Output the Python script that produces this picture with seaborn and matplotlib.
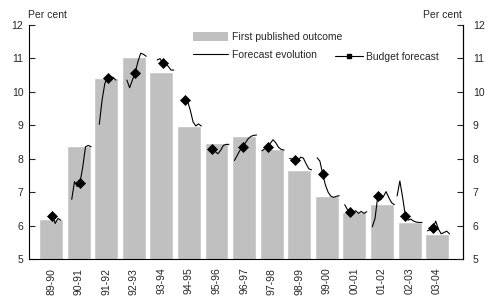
import numpy as np
import pandas as pd
import matplotlib
matplotlib.use("Agg")
import matplotlib.pyplot as plt
import seaborn as sns
from matplotlib.lines import Line2D
from matplotlib.patches import Patch

# ---------------- data ----------------
years = ["89-90", "90-91", "91-92", "92-93", "93-94", "94-95", "95-96", "96-97",
         "97-98", "98-99", "99-00", "00-01", "01-02", "02-03", "03-04"]
first_outcome = [6.20, 8.38, 10.42, 11.04, 10.59, 8.98, 8.48, 8.68,
                 8.29, 7.67, 6.89, 6.42, 6.66, 6.12, 5.76]
budget_forecast = [6.29, 7.29, 10.42, 10.56, 10.87, 9.77, 8.29, 8.36,
                   8.36, 7.96, 7.55, 6.40, 6.89, 6.30, 5.93]
# which forecast round (0..9) the budget forecast corresponds to
budget_round = [5, 5, 5, 5, 5, 3, 3, 4, 3, 3, 3, 3, 3, 3, 3]
N = None
evo_8990 = [N, N, N, N, N, 6.29, 6.07, 6.22, 6.17, N]
evo_9091 = [N, N, 6.79, 7.32, 7.17, 7.29, 7.76, 8.36, 8.40, 8.36]
evo_9192 = [N, N, 9.03, 9.75, 10.25, 10.42, 10.44, 10.43, 10.35, N]
evo_9293 = [N, N, 10.35, 10.12, 10.35, 10.56, 10.90, 11.15, 11.12, 11.06]
evo_9394 = [N, N, N, 10.95, 10.99, 10.87, 10.84, 10.76, 10.65, 10.65]
evo_9495 = [N, N, N, 9.77, 9.72, 9.45, 9.10, 8.98, 9.04, 8.98]
evo_9596 = [N, N, N, 8.29, 8.22, 8.15, 8.25, 8.40, 8.43, 8.43]
evo_9697 = [N, 7.95, 8.10, 8.25, 8.36, 8.48, 8.60, 8.67, 8.70, 8.71]
evo_9798 = [N, 8.24, 8.30, 8.36, 8.46, 8.57, 8.48, 8.34, 8.28, 8.26]
evo_9899 = [N, 8.01, 7.99, 7.96, 7.93, 8.05, 8.02, 7.85, 7.70, 7.67]
evo_9900 = [N, 8.03, 7.93, 7.55, 7.22, 7.00, 6.88, 6.85, 6.88, 6.90]
evo_0001 = [N, 6.63, 6.48, 6.40, 6.40, 6.45, 6.37, 6.43, 6.37, 6.42]
evo_0102 = [N, 5.97, 6.22, 6.89, 6.77, 6.87, 7.02, 6.84, 6.69, 6.63]
evo_0203 = [6.89, 7.34, 6.85, 6.30, 6.17, 6.20, 6.14, 6.11, 6.10, 6.10]
evo_0304 = [N, 5.85, 5.88, 5.93, 6.14, 5.90, 5.76, 5.80, 5.84, 5.76]
evolution = [evo_8990, evo_9091, evo_9192, evo_9293, evo_9394, evo_9495, evo_9596,
             evo_9697, evo_9798, evo_9899, evo_9900, evo_0001, evo_0102, evo_0203,
             evo_0304]

# ---------------- style ----------------
sns.set_style("ticks")
plt.rcParams["font.family"] = ["Liberation Sans", "DejaVu Sans"]
FS = 7.5

fig = plt.figure(figsize=(4.92, 3.03), dpi=100)
W, H = 492, 303
x0, x1, ytop, ybot = 29, 463, 24.8, 259.3
ax = fig.add_axes([x0 / W, 1 - ybot / H, (x1 - x0) / W, (ybot - ytop) / H])

sns.barplot(x=years, y=first_outcome, color="#C0C0C0", saturation=1,
            width=0.87, ax=ax, zorder=1)

n_rounds = 10
round_pos = [-0.45 + 0.1 * j for j in range(n_rounds)]
rows = []
for i, (yr, ev) in enumerate(zip(years, evolution)):
    for j, v in enumerate(ev):
        if v is not None:
            rows.append({"x": i + round_pos[j], "value": v, "year": yr})
df = pd.DataFrame(rows)
sns.lineplot(data=df, x="x", y="value", units="year", estimator=None,
             color="black", lw=0.8, ax=ax, legend=False, sort=False, zorder=3)

bx = [i + round_pos[r] for i, r in enumerate(budget_round)]
sns.scatterplot(x=bx, y=budget_forecast, marker="D", s=26, color="black",
                edgecolor="black", linewidth=0.5, ax=ax, zorder=4, legend=False)

ax.set_xlim(-0.8, 14.94)
ax.set_ylim(5, 12)
ax.set_yticks(range(5, 13))
ax.set_xlabel("")
ax.set_ylabel("")
ax.set_xticks(range(len(years)))
ax.set_xticklabels(years, rotation=90, fontsize=FS)
ax.tick_params(axis="x", length=0, pad=6)
ax.tick_params(axis="y", direction="in", length=4, width=0.8, labelsize=FS,
               left=True, right=False, labelleft=True, labelright=False, pad=4)
for s in ["left", "right", "bottom"]:
    ax.spines[s].set_visible(True)
    ax.spines[s].set_color("black")
    ax.spines[s].set_linewidth(0.8)
ax.spines["top"].set_visible(False)

ax2 = ax.twinx()
ax2.set_ylim(5, 12)
ax2.set_yticks(range(5, 13))
ax2.tick_params(axis="y", direction="in", length=4, width=0.8, labelsize=FS,
                right=True, labelright=True, pad=7)
for s in ["left", "top", "bottom"]:
    ax2.spines[s].set_visible(False)
ax2.spines["right"].set_linewidth(0.8)
ax2.spines["right"].set_color("black")
ax2.grid(False)

fig.text(28 / W, 1 - 17.5 / H, "Per cent", fontsize=FS, ha="left", va="baseline")
fig.text(462 / W, 1 - 17.5 / H, "Per cent", fontsize=FS, ha="right", va="baseline")

h1 = [Patch(facecolor="#C0C0C0", edgecolor="none"),
      Line2D([], [], color="black", lw=0.8)]
leg1 = fig.legend(h1, ["First published outcome", "Forecast evolution"],
                  loc="upper left", bbox_to_anchor=(193 / W, 1 - 32 / H),
                  frameon=False, fontsize=FS, handlelength=3.4, handleheight=1.0,
                  handletextpad=0.3, labelspacing=0.75, borderpad=0, borderaxespad=0)
h2 = [Line2D([], [], color="black", lw=0.8, marker="s", markersize=2.5)]
leg2 = fig.legend(h2, ["Budget forecast"], loc="upper left",
                  bbox_to_anchor=(335 / W, 1 - 52 / H), frameon=False, fontsize=FS,
                  handlelength=2.7, handleheight=1.0, handletextpad=0.3,
                  borderpad=0, borderaxespad=0)

fig.savefig("out.png", dpi=100)
